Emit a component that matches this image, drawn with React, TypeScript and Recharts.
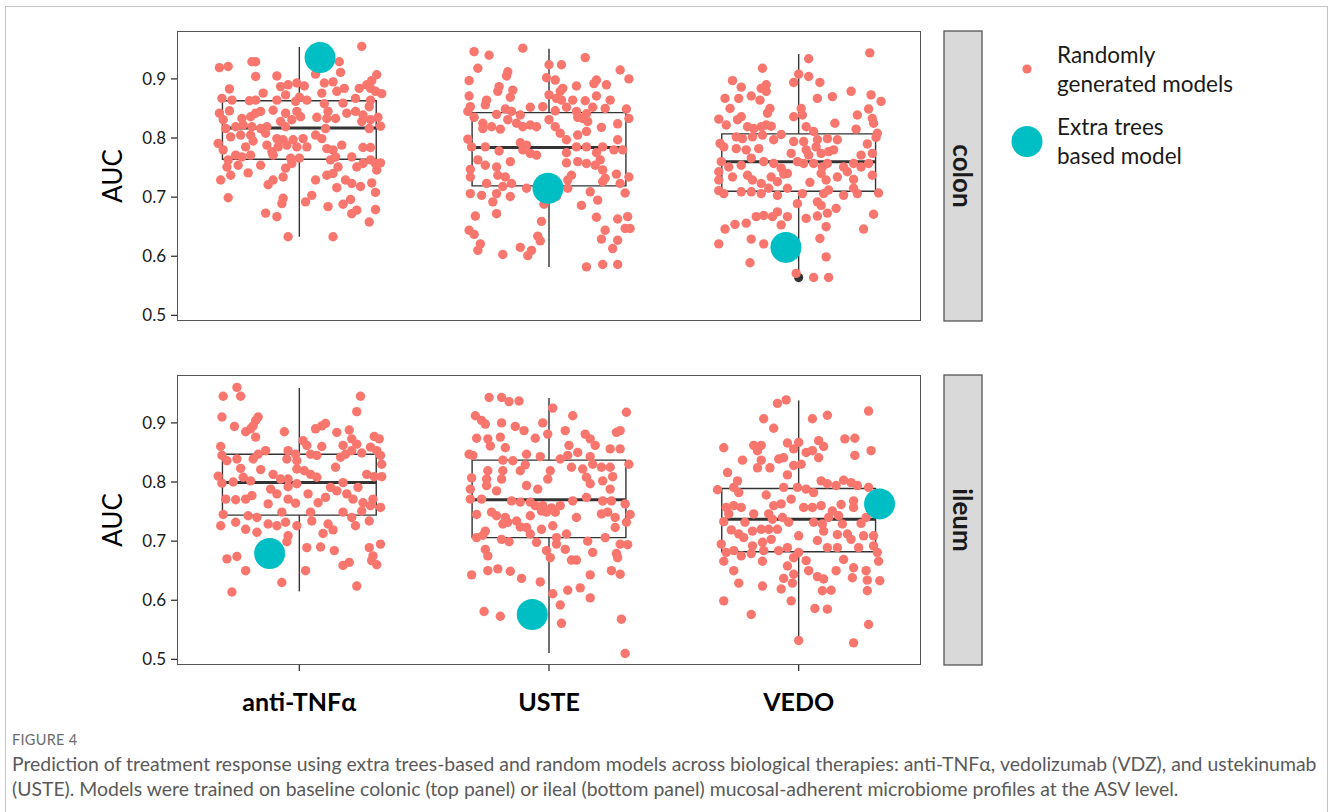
import { ScatterChart, Scatter, XAxis, YAxis, ReferenceArea, ReferenceLine } from "recharts";

// categories and axis ticks
const categories = ["anti-TNFα", "USTE", "VEDO"];
const aucTicks = [0.5, 0.6, 0.7, 0.8, 0.9];

// random models: [jitter offset, AUC]
const colonAntiTnf: [number, number][] = [
  [0.25, 0.955], [0.16, 0.929], [-0.32, 0.919], [-0.285, 0.921], [-0.19, 0.929], [-0.175, 0.929], [0.165, 0.911],
  [-0.175, 0.904], [0.065, 0.908], [-0.09, 0.905], [0.31, 0.907], [0.29, 0.897], [0.27, 0.89], [0.1, 0.893],
  [0.135, 0.895], [-0.28, 0.883], [-0.075, 0.887], [-0.045, 0.89], [-0.01, 0.893], [0.02, 0.888], [-0.145, 0.876],
  [0.09, 0.876], [0.15, 0.879], [0.18, 0.884], [0.24, 0.884], [0.285, 0.884], [0.305, 0.879], [0.33, 0.875],
  [-0.31, 0.867], [-0.27, 0.864], [-0.2, 0.863], [-0.175, 0.864], [-0.09, 0.864], [-0.055, 0.873], [0.0, 0.869],
  [0.03, 0.864], [-0.015, 0.862], [0.1, 0.858], [0.175, 0.859], [0.225, 0.867], [0.28, 0.853], [0.285, 0.864],
  [-0.32, 0.842], [-0.28, 0.846], [-0.305, 0.831], [-0.23, 0.833], [-0.195, 0.836], [-0.175, 0.842], [-0.155, 0.845],
  [-0.105, 0.847], [-0.055, 0.842], [-0.01, 0.845], [0.005, 0.836], [0.07, 0.835], [0.11, 0.833], [0.145, 0.833],
  [0.115, 0.845], [0.19, 0.842], [0.225, 0.845], [0.255, 0.839], [0.315, 0.835], [0.285, 0.831], [-0.295, 0.816],
  [-0.255, 0.819], [-0.225, 0.822], [-0.19, 0.819], [-0.155, 0.816], [-0.13, 0.819], [-0.075, 0.828], [-0.055, 0.819],
  [-0.03, 0.831], [0.105, 0.816], [0.25, 0.828], [0.28, 0.816], [0.325, 0.82], [-0.275, 0.802], [-0.235, 0.805],
  [-0.195, 0.805], [-0.135, 0.808], [-0.09, 0.799], [-0.065, 0.797], [-0.025, 0.797], [0.015, 0.799], [0.065, 0.805],
  [0.09, 0.799], [-0.325, 0.791], [-0.305, 0.78], [-0.215, 0.785], [-0.185, 0.795], [-0.13, 0.788], [-0.11, 0.777],
  [-0.085, 0.785], [-0.05, 0.788], [-0.01, 0.785], [0.03, 0.785], [0.11, 0.782], [0.135, 0.78], [0.17, 0.788],
  [0.255, 0.784], [0.285, 0.784], [-0.255, 0.771], [-0.285, 0.763], [-0.29, 0.751], [-0.23, 0.768], [-0.195, 0.771],
  [-0.105, 0.771], [-0.035, 0.766], [0.0, 0.766], [0.125, 0.763], [0.145, 0.768], [0.21, 0.768], [0.23, 0.751],
  [0.255, 0.757], [0.285, 0.763], [0.305, 0.757], [0.325, 0.758], [-0.245, 0.754], [-0.155, 0.754], [-0.055, 0.749],
  [-0.03, 0.757], [-0.275, 0.737], [-0.315, 0.729], [-0.205, 0.741], [-0.065, 0.734], [-0.105, 0.729], [-0.125, 0.721],
  [0.065, 0.729], [0.11, 0.737], [0.135, 0.74], [0.155, 0.751], [0.185, 0.729], [0.21, 0.723], [0.245, 0.718],
  [0.31, 0.746], [0.15, 0.716], [0.29, 0.724], [0.305, 0.708], [-0.285, 0.699], [0.05, 0.703], [0.025, 0.692],
  [-0.065, 0.698], [-0.07, 0.689], [0.115, 0.684], [0.175, 0.688], [0.205, 0.696], [0.21, 0.672], [0.23, 0.678],
  [0.305, 0.679], [-0.135, 0.673], [-0.09, 0.667], [0.28, 0.658], [-0.045, 0.633], [0.135, 0.633],
];

const colonUste: [number, number][] = [
  [-0.3, 0.946], [-0.24, 0.94], [-0.105, 0.952], [0.145, 0.936], [-0.285, 0.918], [-0.165, 0.912], [-0.17, 0.905],
  [0.0, 0.924], [0.05, 0.924], [0.285, 0.915], [0.32, 0.9], [-0.32, 0.897], [-0.01, 0.902], [0.025, 0.898],
  [0.19, 0.898], [0.18, 0.892], [0.23, 0.89], [-0.2, 0.887], [-0.205, 0.879], [-0.145, 0.881], [-0.155, 0.869],
  [0.055, 0.884], [0.045, 0.879], [0.11, 0.888], [-0.32, 0.871], [-0.25, 0.864], [-0.255, 0.856], [0.0, 0.873],
  [0.03, 0.867], [0.05, 0.864], [0.095, 0.864], [0.145, 0.863], [0.19, 0.871], [0.245, 0.864], [-0.315, 0.853],
  [-0.325, 0.845], [-0.3, 0.835], [-0.21, 0.84], [-0.175, 0.849], [-0.15, 0.845], [-0.115, 0.839], [-0.075, 0.852],
  [-0.025, 0.853], [0.025, 0.846], [0.07, 0.852], [0.11, 0.845], [0.15, 0.841], [0.175, 0.852], [0.225, 0.85],
  [0.31, 0.849], [0.32, 0.833], [-0.265, 0.825], [-0.265, 0.816], [-0.23, 0.819], [-0.195, 0.815], [-0.165, 0.831],
  [-0.13, 0.825], [-0.105, 0.819], [-0.075, 0.822], [-0.05, 0.819], [0.0, 0.831], [0.025, 0.819], [0.045, 0.808],
  [0.115, 0.835], [0.135, 0.833], [0.155, 0.828], [0.21, 0.818], [0.275, 0.824], [-0.325, 0.798], [-0.31, 0.785],
  [-0.255, 0.785], [-0.2, 0.778], [-0.115, 0.792], [-0.09, 0.788], [-0.105, 0.78], [-0.075, 0.774], [-0.05, 0.771],
  [0.07, 0.797], [0.115, 0.805], [0.15, 0.811], [0.11, 0.785], [0.15, 0.785], [0.07, 0.775], [0.215, 0.785],
  [0.26, 0.78], [0.295, 0.78], [0.275, 0.797], [0.19, 0.775], [-0.285, 0.763], [-0.255, 0.754], [-0.315, 0.747],
  [-0.315, 0.734], [-0.21, 0.751], [-0.205, 0.737], [-0.175, 0.734], [-0.155, 0.76], [-0.15, 0.723], [-0.155, 0.701],
  [0.07, 0.758], [0.115, 0.76], [0.15, 0.757], [0.185, 0.754], [0.09, 0.737], [0.075, 0.729], [0.205, 0.763],
  [0.215, 0.746], [0.225, 0.732], [0.27, 0.739], [0.32, 0.734], [0.215, 0.726], [0.285, 0.723], [0.305, 0.707],
  [-0.315, 0.706], [-0.25, 0.723], [-0.27, 0.703], [-0.225, 0.692], [-0.21, 0.706], [-0.185, 0.718], [-0.09, 0.715],
  [-0.035, 0.703], [0.03, 0.701], [0.075, 0.715], [0.165, 0.709], [0.195, 0.695], [0.13, 0.686], [-0.02, 0.688],
  [-0.295, 0.668], [-0.21, 0.672], [0.19, 0.666], [0.275, 0.663], [0.315, 0.667], [-0.03, 0.659], [-0.32, 0.644],
  [-0.3, 0.637], [0.225, 0.644], [0.305, 0.647], [0.325, 0.647], [-0.045, 0.634], [-0.035, 0.626], [0.21, 0.629],
  [0.275, 0.627], [-0.275, 0.621], [-0.285, 0.61], [-0.115, 0.615], [-0.07, 0.61], [-0.085, 0.601], [-0.185, 0.603],
  [0.255, 0.613], [0.15, 0.582], [0.215, 0.586], [0.275, 0.586],
];

const colonVedo: [number, number][] = [
  [0.285, 0.944], [0.04, 0.934], [-0.145, 0.918], [-0.265, 0.897], [-0.23, 0.886], [0.0, 0.908], [0.04, 0.904],
  [-0.02, 0.894], [0.085, 0.894], [-0.15, 0.884], [-0.13, 0.89], [-0.13, 0.879], [-0.295, 0.867], [-0.24, 0.867],
  [-0.19, 0.871], [-0.155, 0.864], [0.075, 0.867], [0.135, 0.87], [0.21, 0.879], [0.29, 0.873], [0.33, 0.862],
  [-0.275, 0.85], [-0.115, 0.85], [-0.125, 0.842], [0.01, 0.85], [-0.02, 0.836], [0.015, 0.839], [0.28, 0.849],
  [0.235, 0.839], [0.295, 0.833], [0.3, 0.825], [-0.32, 0.832], [-0.29, 0.822], [-0.245, 0.831], [-0.23, 0.836],
  [-0.205, 0.819], [-0.18, 0.816], [-0.15, 0.819], [-0.13, 0.822], [-0.11, 0.82], [-0.07, 0.806], [0.03, 0.819],
  [0.06, 0.811], [0.145, 0.825], [0.23, 0.815], [0.315, 0.808], [0.31, 0.801], [-0.315, 0.791], [-0.3, 0.785],
  [-0.25, 0.802], [-0.225, 0.799], [-0.185, 0.802], [-0.145, 0.805], [-0.1, 0.797], [-0.02, 0.794], [0.02, 0.794],
  [0.075, 0.797], [0.115, 0.799], [0.155, 0.797], [0.07, 0.785], [0.275, 0.79], [-0.25, 0.782], [-0.21, 0.78],
  [-0.16, 0.782], [-0.03, 0.774], [0.03, 0.78], [0.04, 0.771], [0.09, 0.774], [0.12, 0.777], [0.14, 0.78],
  [0.25, 0.771], [0.295, 0.774], [-0.31, 0.76], [-0.28, 0.751], [-0.23, 0.754], [-0.19, 0.766], [-0.14, 0.76],
  [-0.1, 0.757], [-0.07, 0.749], [-0.045, 0.74], [-0.005, 0.76], [0.02, 0.757], [0.06, 0.757], [0.095, 0.751],
  [0.115, 0.757], [0.18, 0.751], [0.22, 0.757], [0.25, 0.751], [0.28, 0.757], [-0.32, 0.743], [-0.32, 0.729],
  [-0.265, 0.734], [-0.205, 0.737], [-0.185, 0.729], [-0.15, 0.723], [-0.11, 0.734], [-0.085, 0.726], [-0.06, 0.739],
  [0.045, 0.725], [0.09, 0.74], [0.11, 0.729], [0.155, 0.734], [0.195, 0.743], [0.22, 0.73], [0.295, 0.737],
  [-0.32, 0.711], [-0.3, 0.706], [-0.23, 0.709], [-0.19, 0.709], [-0.15, 0.706], [-0.12, 0.715], [-0.085, 0.703],
  [-0.045, 0.715], [0.015, 0.706], [-0.005, 0.689], [0.075, 0.692], [0.1, 0.706], [0.12, 0.712], [0.09, 0.686],
  [0.115, 0.673], [0.15, 0.681], [0.18, 0.703], [0.22, 0.715], [0.235, 0.706], [0.32, 0.707], [-0.295, 0.646],
  [-0.255, 0.654], [-0.21, 0.656], [-0.17, 0.667], [-0.14, 0.669], [-0.105, 0.667], [-0.085, 0.675], [-0.045, 0.667],
  [-0.07, 0.653], [0.03, 0.664], [0.075, 0.668], [0.11, 0.65], [0.085, 0.63], [0.3, 0.671], [0.26, 0.646],
  [-0.32, 0.621], [-0.19, 0.629], [-0.14, 0.621], [-0.195, 0.589], [0.11, 0.599], [-0.01, 0.571], [0.06, 0.564],
  [0.12, 0.564],
];

const ileumAntiTnf: [number, number][] = [
  [-0.25, 0.96], [-0.305, 0.945], [-0.235, 0.945], [0.245, 0.945], [0.23, 0.919], [-0.31, 0.91], [-0.26, 0.894],
  [-0.165, 0.91], [-0.175, 0.904], [-0.185, 0.895], [-0.195, 0.89], [-0.215, 0.885], [-0.175, 0.876], [-0.06, 0.885],
  [0.065, 0.89], [0.09, 0.895], [0.105, 0.899], [0.15, 0.884], [0.2, 0.888], [0.21, 0.873], [0.3, 0.877],
  [0.32, 0.873], [0.015, 0.87], [0.03, 0.862], [0.09, 0.86], [0.175, 0.862], [0.23, 0.864], [0.25, 0.849],
  [0.285, 0.859], [0.31, 0.853], [-0.315, 0.86], [-0.31, 0.845], [-0.29, 0.836], [-0.25, 0.839], [-0.235, 0.823],
  [-0.185, 0.839], [-0.165, 0.847], [-0.135, 0.853], [-0.045, 0.853], [-0.015, 0.847], [-0.05, 0.839], [-0.01, 0.836],
  [0.045, 0.847], [0.07, 0.845], [0.145, 0.825], [0.165, 0.842], [0.185, 0.847], [0.21, 0.853], [0.325, 0.845],
  [0.33, 0.83], [-0.325, 0.81], [-0.31, 0.798], [-0.265, 0.8], [-0.225, 0.808], [-0.195, 0.802], [-0.155, 0.821],
  [-0.105, 0.813], [-0.075, 0.805], [-0.045, 0.805], [-0.01, 0.822], [0.02, 0.819], [0.045, 0.813], [0.07, 0.808],
  [0.175, 0.799], [0.27, 0.813], [0.3, 0.809], [0.33, 0.809], [-0.295, 0.771], [-0.255, 0.77], [-0.215, 0.771],
  [-0.19, 0.777], [-0.115, 0.788], [-0.09, 0.78], [-0.045, 0.792], [-0.01, 0.797], [0.035, 0.78], [0.075, 0.765],
  [0.105, 0.774], [0.125, 0.791], [0.15, 0.785], [0.19, 0.78], [0.215, 0.771], [0.235, 0.791], [0.255, 0.765],
  [0.295, 0.771], [0.285, 0.76], [0.325, 0.757], [-0.305, 0.745], [-0.315, 0.726], [-0.255, 0.732], [-0.205, 0.743],
  [-0.17, 0.74], [-0.215, 0.72], [-0.125, 0.763], [-0.07, 0.749], [-0.045, 0.771], [-0.015, 0.764], [-0.125, 0.729],
  [-0.09, 0.726], [-0.055, 0.732], [-0.17, 0.715], [-0.01, 0.726], [0.045, 0.749], [0.05, 0.734], [0.095, 0.713],
  [0.115, 0.729], [0.135, 0.719], [0.175, 0.749], [0.21, 0.74], [0.225, 0.726], [0.25, 0.751], [0.28, 0.734],
  [-0.045, 0.709], [-0.05, 0.699], [0.03, 0.689], [0.085, 0.69], [0.14, 0.684], [0.28, 0.689], [0.325, 0.695],
  [0.295, 0.675], [0.29, 0.667], [0.31, 0.66], [-0.29, 0.67], [-0.25, 0.674], [-0.215, 0.65], [-0.07, 0.63],
  [0.025, 0.65], [0.175, 0.659], [0.2, 0.664], [-0.27, 0.614], [0.23, 0.624],
];

const ileumUste: [number, number][] = [
  [-0.24, 0.943], [-0.19, 0.943], [-0.16, 0.936], [-0.12, 0.937], [0.015, 0.925], [0.31, 0.918], [-0.295, 0.912],
  [-0.27, 0.904], [-0.255, 0.898], [-0.19, 0.9], [-0.135, 0.894], [-0.1, 0.887], [-0.025, 0.9], [-0.005, 0.881],
  [0.095, 0.912], [0.065, 0.887], [0.145, 0.881], [0.165, 0.873], [0.185, 0.862], [0.27, 0.884], [0.285, 0.887],
  [-0.29, 0.874], [-0.245, 0.873], [-0.195, 0.876], [-0.175, 0.858], [-0.235, 0.861], [-0.055, 0.874], [0.08, 0.862],
  [-0.32, 0.847], [-0.305, 0.845], [-0.185, 0.837], [-0.145, 0.836], [-0.09, 0.847], [-0.035, 0.843], [0.045, 0.839],
  [0.075, 0.845], [0.115, 0.85], [0.165, 0.843], [0.245, 0.856], [0.285, 0.856], [-0.115, 0.819], [-0.095, 0.829],
  [0.09, 0.825], [0.135, 0.822], [0.175, 0.83], [0.21, 0.825], [0.245, 0.825], [0.32, 0.83], [-0.31, 0.807],
  [-0.245, 0.819], [-0.185, 0.819], [-0.19, 0.805], [0.005, 0.819], [-0.005, 0.805], [0.15, 0.808], [0.165, 0.797],
  [0.215, 0.802], [0.255, 0.809], [-0.315, 0.788], [-0.25, 0.794], [-0.21, 0.785], [-0.25, 0.805], [-0.09, 0.794],
  [-0.045, 0.788], [0.245, 0.788], [-0.315, 0.771], [-0.27, 0.771], [-0.15, 0.768], [-0.115, 0.766], [-0.075, 0.766],
  [-0.055, 0.76], [-0.025, 0.76], [0.01, 0.756], [0.045, 0.76], [0.095, 0.768], [0.15, 0.774], [0.215, 0.768],
  [0.25, 0.768], [0.305, 0.763], [-0.29, 0.745], [-0.23, 0.749], [-0.21, 0.743], [-0.175, 0.74], [-0.165, 0.732],
  [-0.13, 0.734], [-0.115, 0.724], [-0.075, 0.743], [-0.03, 0.751], [-0.01, 0.749], [0.025, 0.749], [0.11, 0.74],
  [0.21, 0.746], [0.235, 0.749], [0.265, 0.74], [0.325, 0.745], [0.31, 0.732], [-0.255, 0.717], [-0.265, 0.71],
  [-0.185, 0.729], [-0.09, 0.723], [-0.075, 0.712], [-0.03, 0.72], [0.015, 0.726], [-0.29, 0.706], [-0.19, 0.703],
  [-0.16, 0.699], [-0.05, 0.698], [0.03, 0.706], [0.07, 0.712], [0.03, 0.695], [0.155, 0.7], [0.225, 0.706],
  [0.265, 0.723], [-0.01, 0.684], [0.005, 0.672], [0.065, 0.686], [0.09, 0.668], [0.11, 0.668], [0.175, 0.681],
  [-0.255, 0.686], [-0.245, 0.675], [0.285, 0.695], [0.315, 0.694], [0.27, 0.679], [0.275, 0.672], [-0.31, 0.643],
  [-0.245, 0.65], [-0.205, 0.653], [-0.155, 0.649], [-0.11, 0.637], [-0.035, 0.631], [0.165, 0.643], [0.25, 0.65],
  [0.285, 0.644], [0.015, 0.611], [0.075, 0.617], [0.125, 0.621], [0.165, 0.604], [0.045, 0.592], [-0.26, 0.581],
  [-0.195, 0.573], [0.05, 0.561], [0.29, 0.568], [0.305, 0.51],
];

const ileumVedo: [number, number][] = [
  [-0.085, 0.933], [-0.05, 0.939], [0.28, 0.92], [-0.14, 0.907], [0.055, 0.907], [0.115, 0.913], [-0.1, 0.891],
  [-0.3, 0.858], [-0.18, 0.862], [-0.15, 0.862], [-0.165, 0.853], [-0.045, 0.866], [0.0, 0.867], [-0.02, 0.856],
  [0.08, 0.87], [0.1, 0.86], [0.03, 0.85], [0.055, 0.853], [0.08, 0.841], [0.185, 0.873], [0.225, 0.874],
  [0.29, 0.853], [0.225, 0.845], [-0.225, 0.837], [-0.15, 0.837], [-0.165, 0.824], [-0.115, 0.824], [-0.08, 0.839],
  [-0.06, 0.841], [-0.02, 0.828], [0.01, 0.83], [-0.045, 0.812], [-0.285, 0.816], [-0.325, 0.787], [-0.26, 0.791],
  [-0.245, 0.802], [-0.24, 0.782], [-0.13, 0.778], [-0.06, 0.791], [-0.005, 0.791], [0.03, 0.788], [0.06, 0.782],
  [0.09, 0.802], [0.115, 0.797], [0.15, 0.794], [0.18, 0.803], [0.21, 0.799], [0.235, 0.794], [0.28, 0.791],
  [-0.29, 0.757], [-0.28, 0.746], [-0.26, 0.76], [-0.23, 0.757], [-0.18, 0.746], [-0.12, 0.746], [-0.1, 0.76],
  [-0.07, 0.763], [-0.03, 0.771], [0.02, 0.757], [0.055, 0.757], [0.09, 0.76], [0.135, 0.751], [0.17, 0.762],
  [0.22, 0.757], [0.22, 0.768], [-0.3, 0.733], [-0.215, 0.732], [-0.105, 0.737], [-0.065, 0.74], [-0.04, 0.732],
  [0.06, 0.732], [0.095, 0.729], [0.12, 0.74], [0.16, 0.743], [0.175, 0.729], [0.25, 0.73], [0.27, 0.74],
  [-0.27, 0.719], [-0.24, 0.712], [-0.22, 0.706], [-0.185, 0.717], [-0.15, 0.72], [-0.12, 0.72], [-0.085, 0.72],
  [0.0, 0.709], [0.1, 0.717], [0.155, 0.711], [0.195, 0.712], [0.26, 0.709], [0.3, 0.709], [-0.31, 0.695],
  [-0.29, 0.681], [-0.26, 0.684], [-0.23, 0.675], [-0.19, 0.679], [-0.185, 0.692], [-0.145, 0.698], [-0.11, 0.703],
  [-0.14, 0.684], [-0.08, 0.684], [-0.045, 0.689], [-0.02, 0.672], [0.0, 0.681], [0.03, 0.667], [0.075, 0.701],
  [0.115, 0.689], [0.155, 0.689], [0.18, 0.669], [0.21, 0.703], [0.24, 0.689], [0.3, 0.692], [0.315, 0.681],
  [0.32, 0.666], [-0.3, 0.666], [-0.145, 0.666], [-0.26, 0.65], [-0.24, 0.629], [-0.045, 0.658], [-0.02, 0.644],
  [-0.06, 0.637], [-0.07, 0.619], [0.04, 0.65], [0.075, 0.64], [0.1, 0.636], [0.15, 0.65], [0.22, 0.655],
  [0.27, 0.65], [0.215, 0.638], [0.275, 0.634], [0.325, 0.633], [-0.145, 0.624], [-0.025, 0.629], [0.095, 0.616],
  [0.13, 0.617], [0.275, 0.616], [-0.3, 0.599], [-0.03, 0.599], [-0.19, 0.576], [0.065, 0.586], [0.115, 0.585],
  [0.28, 0.559], [0.0, 0.532], [0.22, 0.528],
];

// boxplot stats per therapy: [lower whisker, Q1, median, Q3, upper whisker]
const colonBoxes: number[][] = [
  [0.633, 0.764, 0.817, 0.863, 0.954],
  [0.582, 0.719, 0.784, 0.843, 0.951],
  [0.571, 0.71, 0.76, 0.807, 0.942],
];
const ileumBoxes: number[][] = [
  [0.615, 0.744, 0.799, 0.847, 0.959],
  [0.511, 0.706, 0.77, 0.837, 0.942],
  [0.534, 0.682, 0.737, 0.789, 0.938],
];

// boxplot outliers: [therapy index, AUC]
const colonOutliers: [number, number][] = [[2, 0.564]];
const ileumOutliers: [number, number][] = [];

// extra trees model: [jitter offset, AUC]
const colonExtraTrees: [number, number][] = [[0.083, 0.936], [-0.004, 0.715], [-0.051, 0.615]];
const ileumExtraTrees: [number, number][] = [[-0.119, 0.679], [-0.067, 0.576], [0.324, 0.763]];

const RED = "#F8766D";
const TEAL = "#00BFC4";
const FONT = "Lato, 'Open Sans', sans-serif";
const BOX_HALF = 0.308;

const PLOT_LEFT = 177;
const PLOT_W = 744;
const PLOT_H = 290;

const toPoints = (groups: [number, number][][]) =>
  groups.flatMap((g, i) => g.map(([dx, y]) => ({ x: i + 1 + dx, y })));

const XTick = ({ x, y, payload }: any) => (
  <text x={x} y={y + 38} textAnchor="middle" fontFamily={FONT} fontWeight={700} fontSize={25} fill="#000">
    {categories[payload.value - 1]}
  </text>
);

function Panel({ top, groups, boxes, outliers, extra, showX }: any) {
  const pts = toPoints(groups);
  const extraPts = extra.map(([dx, y]: number[], i: number) => ({ x: i + 1 + dx, y }));
  const outPts = outliers.map(([i, y]: number[]) => ({ x: i + 1, y }));
  const xAxisH = showX ? 70 : 0;
  return (
    <div style={{ position: "absolute", left: 0, top: top - 10 }}>
      <ScatterChart
        width={PLOT_LEFT + PLOT_W + 10}
        height={10 + PLOT_H + xAxisH + 14}
        margin={{ top: 10, right: 10, bottom: 14, left: PLOT_LEFT - 60 }}
      >
        <XAxis
          type="number"
          dataKey="x"
          domain={[0.51, 3.49]}
          ticks={[1, 2, 3]}
          interval={0}
          allowDataOverflow
          hide={!showX}
          height={xAxisH}
          axisLine={false}
          tickSize={6}
          tickLine={{ stroke: "#333", strokeWidth: 1.3 }}
          tick={<XTick />}
        />
        <YAxis
          type="number"
          dataKey="y"
          domain={[0.4905, 0.981]}
          ticks={aucTicks}
          interval={0}
          allowDataOverflow
          width={60}
          axisLine={false}
          tickSize={6}
          tickMargin={5}
          tickLine={{ stroke: "#333", strokeWidth: 1.3 }}
          tick={{ fill: "#1a1a1a", fontSize: 17, fontFamily: FONT }}
          tickFormatter={(v: number) => v.toFixed(1)}
        />
        {boxes.map((b: number[], i: number) => (
          <ReferenceLine
            key={`wl${i}`}
            segment={[{ x: i + 1, y: b[0] }, { x: i + 1, y: b[1] }]}
            stroke="#333"
            strokeWidth={1.4}
          />
        ))}
        {boxes.map((b: number[], i: number) => (
          <ReferenceLine
            key={`wh${i}`}
            segment={[{ x: i + 1, y: b[3] }, { x: i + 1, y: b[4] }]}
            stroke="#333"
            strokeWidth={1.4}
          />
        ))}
        {boxes.map((b: number[], i: number) => (
          <ReferenceArea
            key={`box${i}`}
            x1={i + 1 - BOX_HALF}
            x2={i + 1 + BOX_HALF}
            y1={b[1]}
            y2={b[3]}
            fill="#fff"
            fillOpacity={0}
            stroke="#333"
            strokeWidth={1.4}
          />
        ))}
        {boxes.map((b: number[], i: number) => (
          <ReferenceLine
            key={`med${i}`}
            segment={[{ x: i + 1 - BOX_HALF, y: b[2] }, { x: i + 1 + BOX_HALF, y: b[2] }]}
            stroke="#333"
            strokeWidth={3}
          />
        ))}
        <Scatter
          data={outPts}
          isAnimationActive={false}
          shape={(p: any) => <circle cx={p.cx} cy={p.cy} r={4.6} fill="#333" />}
        />
        <Scatter
          data={pts}
          isAnimationActive={false}
          shape={(p: any) => <circle cx={p.cx} cy={p.cy} r={4.7} fill={RED} />}
        />
        <Scatter
          data={extraPts}
          isAnimationActive={false}
          shape={(p: any) => <circle cx={p.cx} cy={p.cy} r={15.5} fill={TEAL} />}
        />
      </ScatterChart>
      <div
        style={{
          position: "absolute",
          left: PLOT_LEFT,
          top: 10,
          width: PLOT_W,
          height: PLOT_H,
          border: "1.3px solid #555",
          boxSizing: "border-box",
          pointerEvents: "none",
        }}
      />
    </div>
  );
}

export default function App() {
  return (
    <div style={{ position: "absolute", left: 0, top: 0, width: 1330, height: 812, background: "#fff", overflow: "hidden" }}>
      <div
        style={{
          position: "absolute",
          left: 5,
          top: 6,
          width: 1323,
          height: 830,
          border: "1px solid #c4c4c4",
          boxSizing: "border-box",
        }}
      />
      <Panel top={31} groups={[colonAntiTnf, colonUste, colonVedo]} boxes={colonBoxes} outliers={colonOutliers} extra={colonExtraTrees} showX={false} />
      <Panel top={375} groups={[ileumAntiTnf, ileumUste, ileumVedo]} boxes={ileumBoxes} outliers={ileumOutliers} extra={ileumExtraTrees} showX />
      <svg width={1330} height={812} style={{ position: "absolute", left: 0, top: 0, pointerEvents: "none" }}>
        <text transform="translate(122,176) rotate(-90)" textAnchor="middle" fontFamily={FONT} fontSize={26} fill="#000">
          AUC
        </text>
        <text transform="translate(122,520) rotate(-90)" textAnchor="middle" fontFamily={FONT} fontSize={26} fill="#000">
          AUC
        </text>
        <rect x={944} y={31} width={38} height={290} fill="#d9d9d9" stroke="#555" strokeWidth={1.3} />
        <rect x={944} y={375} width={38} height={290} fill="#d9d9d9" stroke="#555" strokeWidth={1.3} />
        <text transform="translate(963,176) rotate(90)" textAnchor="middle" dominantBaseline="central" fontFamily={FONT} fontWeight={700} fontSize={26} fill="#1a1a1a">
          colon
        </text>
        <text transform="translate(963,520) rotate(90)" textAnchor="middle" dominantBaseline="central" fontFamily={FONT} fontWeight={700} fontSize={26} fill="#1a1a1a">
          ileum
        </text>
        <circle cx={1027} cy={69} r={4.6} fill={RED} />
        <circle cx={1027} cy={141.5} r={15.5} fill={TEAL} />
        <g fontFamily={FONT} fontSize={22.5} fill="#1a1a1a">
          <text x={1057} y={63}>Randomly</text>
          <text x={1057} y={92}>generated models</text>
          <text x={1057} y={135}>Extra trees</text>
          <text x={1057} y={164}>based model</text>
        </g>
      </svg>
      <div style={{ position: "absolute", left: 12, top: 731, fontFamily: FONT, fontSize: 14.5, color: "#6b6b6b", letterSpacing: 0.3 }}>
        FIGURE 4
      </div>
      <div style={{ position: "absolute", left: 12, top: 751, fontFamily: FONT, fontSize: 19.4, color: "#5a5a5a", whiteSpace: "nowrap", lineHeight: "25px" }}>
        <div>
          Prediction of treatment response using extra trees-based and random models across biological therapies: anti-TNFα, vedolizumab (VDZ), and ustekinumab
        </div>
        <div>
          (USTE). Models were trained on baseline colonic (top panel) or ileal (bottom panel) mucosal-adherent microbiome profiles at the ASV level.
        </div>
      </div>
    </div>
  );
}
